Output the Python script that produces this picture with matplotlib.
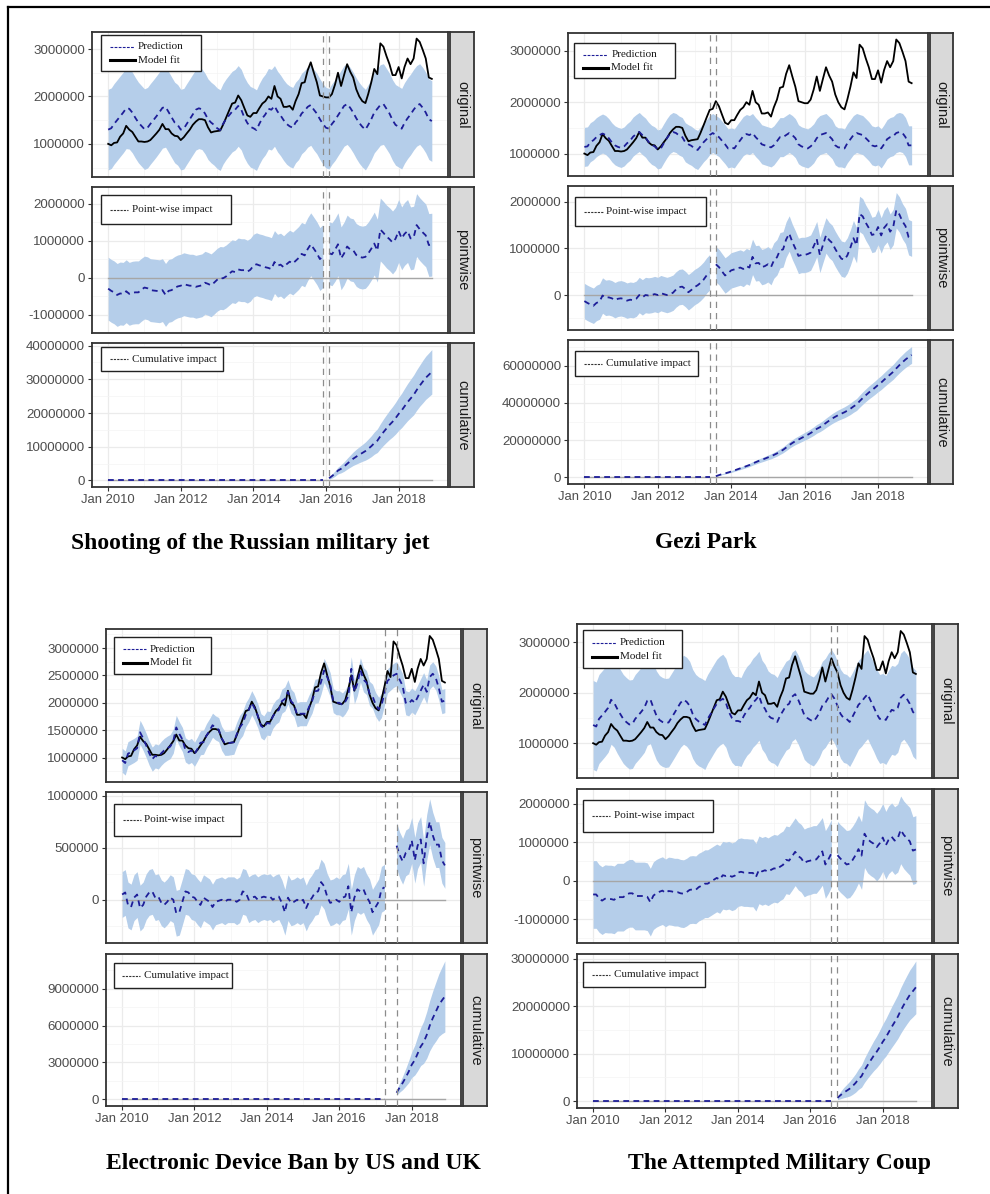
import numpy as np
import pandas as pd
import matplotlib
matplotlib.use("Agg")
import matplotlib.pyplot as plt
import matplotlib.dates as mdates
from matplotlib.patches import Rectangle
from matplotlib.lines import Line2D
from matplotlib.ticker import FixedLocator, FuncFormatter

# ---------------- data (values in millions) ----------------
start_month = "2010-01-01"
n_months = 108

actual_m = [
    1.00, 0.97, 1.02, 1.03, 1.15, 1.22, 1.38, 1.30, 1.25, 1.15, 1.05, 1.05,
    1.04, 1.05, 1.08, 1.15, 1.22, 1.30, 1.42, 1.31, 1.31, 1.22, 1.17, 1.16,
    1.08, 1.14, 1.22, 1.30, 1.40, 1.47, 1.52, 1.52, 1.50, 1.35, 1.24, 1.26,
    1.27, 1.28, 1.40, 1.55, 1.70, 1.85, 1.87, 2.02, 1.92, 1.76, 1.60, 1.57,
    1.65, 1.65, 1.75, 1.85, 1.90, 2.00, 1.95, 2.22, 2.00, 1.95, 1.78, 1.78,
    1.80, 1.72, 1.90, 2.05, 2.28, 2.30, 2.55, 2.72, 2.50, 2.30, 2.02, 2.00,
    1.98, 1.98, 2.05, 2.25, 2.50, 2.22, 2.45, 2.68, 2.52, 2.40, 2.15, 2.00,
    1.90, 1.86, 2.05, 2.30, 2.58, 2.47, 3.12, 3.05, 2.85, 2.68, 2.45, 2.45,
    2.62, 2.38, 2.62, 2.80, 2.68, 2.80, 3.22, 3.15, 2.98, 2.80, 2.40, 2.37]

pred_jet_m = [
    1.30, 1.33, 1.42, 1.50, 1.58, 1.66, 1.75, 1.74, 1.66, 1.55, 1.45, 1.38,
    1.31, 1.34, 1.42, 1.50, 1.58, 1.67, 1.76, 1.78, 1.67, 1.56, 1.45, 1.40,
    1.30, 1.32, 1.42, 1.52, 1.62, 1.72, 1.75, 1.73, 1.64, 1.52, 1.45, 1.40,
    1.33, 1.29, 1.42, 1.52, 1.60, 1.68, 1.72, 1.80, 1.72, 1.56, 1.44, 1.36,
    1.33, 1.29, 1.42, 1.54, 1.62, 1.74, 1.72, 1.80, 1.68, 1.60, 1.50, 1.42,
    1.37, 1.34, 1.45, 1.52, 1.64, 1.70, 1.78, 1.82, 1.72, 1.64, 1.52, 1.42,
    1.34, 1.32, 1.42, 1.50, 1.60, 1.70, 1.80, 1.84, 1.76, 1.66, 1.54, 1.44,
    1.36, 1.30, 1.40, 1.52, 1.66, 1.74, 1.82, 1.84, 1.74, 1.64, 1.50, 1.40,
    1.36, 1.32, 1.44, 1.54, 1.62, 1.72, 1.80, 1.84, 1.76, 1.66, 1.52, 1.48]

pred_gezi_m = [
    1.13, 1.14, 1.22, 1.26, 1.32, 1.36, 1.39, 1.36, 1.30, 1.22, 1.16, 1.13,
    1.11, 1.14, 1.20, 1.25, 1.33, 1.38, 1.42, 1.36, 1.31, 1.23, 1.17, 1.14,
    1.08, 1.10, 1.20, 1.30, 1.38, 1.42, 1.40, 1.35, 1.32, 1.22, 1.18, 1.15,
    1.10, 1.07, 1.14, 1.22, 1.28, 1.36, 1.40, 1.36, 1.32, 1.25, 1.18, 1.10,
    1.12, 1.10, 1.18, 1.26, 1.34, 1.38, 1.36, 1.40, 1.32, 1.26, 1.18, 1.16,
    1.14, 1.12, 1.16, 1.24, 1.32, 1.32, 1.36, 1.40, 1.36, 1.30, 1.18, 1.14,
    1.12, 1.10, 1.14, 1.20, 1.30, 1.36, 1.38, 1.40, 1.34, 1.28, 1.16, 1.12,
    1.12, 1.10, 1.20, 1.28, 1.36, 1.40, 1.38, 1.36, 1.30, 1.24, 1.16, 1.14,
    1.16, 1.10, 1.18, 1.28, 1.32, 1.34, 1.40, 1.42, 1.40, 1.32, 1.16, 1.16]

pred_coup_m = [
    1.36, 1.33, 1.48, 1.55, 1.62, 1.70, 1.86, 1.80, 1.68, 1.58, 1.48, 1.42,
    1.37, 1.38, 1.48, 1.55, 1.62, 1.70, 1.84, 1.87, 1.70, 1.55, 1.46, 1.42,
    1.40, 1.41, 1.50, 1.60, 1.70, 1.80, 1.86, 1.82, 1.74, 1.58, 1.48, 1.43,
    1.40, 1.36, 1.48, 1.58, 1.68, 1.78, 1.84, 1.88, 1.80, 1.62, 1.50, 1.44,
    1.44, 1.42, 1.54, 1.64, 1.70, 1.80, 1.86, 1.94, 1.76, 1.68, 1.55, 1.50,
    1.48, 1.42, 1.54, 1.64, 1.74, 1.78, 1.92, 1.97, 1.86, 1.72, 1.56, 1.50,
    1.46, 1.43, 1.50, 1.60, 1.74, 1.80, 1.90, 1.97, 1.88, 1.74, 1.58, 1.50,
    1.48, 1.42, 1.52, 1.64, 1.76, 1.82, 1.90, 1.97, 1.84, 1.72, 1.58, 1.48,
    1.50, 1.46, 1.56, 1.66, 1.64, 1.70, 1.90, 1.96, 1.88, 1.78, 1.62, 1.56]

# electronic device ban: point-wise effect read directly
effect_ban_m = [
    0.05, 0.07, -0.05, -0.07, 0.02, 0.05, -0.08, -0.05, 0.03, 0.07, 0.08, 0.02,
    0.03, -0.03, -0.05, -0.02, 0.02, 0.00, -0.13, -0.12, -0.02, 0.08, 0.07, 0.03,
    0.02, -0.02, -0.05, 0.02, 0.00, -0.02, -0.07, -0.02, -0.01, 0.00, -0.02, 0.00,
    0.00, 0.00, -0.02, 0.00, 0.08, 0.07, 0.00, 0.02, 0.03, 0.00, 0.02, 0.03,
    0.02, 0.03, 0.00, 0.02, 0.03, -0.03, -0.12, 0.02, -0.03, -0.02, 0.00, -0.02,
    0.00, -0.08, -0.02, 0.02, 0.07, 0.08, 0.17, 0.13, 0.03, -0.03, -0.02, 0.00,
    -0.02, 0.02, 0.03, 0.13, -0.12, 0.02, 0.10, 0.08, 0.10, 0.03, -0.02, -0.12,
    -0.07, -0.02, 0.10, 0.12, 0.18, 0.02, 0.62, 0.52, 0.43, 0.37, 0.45, 0.47,
    0.57, 0.38, 0.52, 0.58, 0.35, 0.60, 0.75, 0.62, 0.53, 0.53, 0.38, 0.33]

# half-width of the prediction interval (millions)
band_hw_jet = 0.85
band_hw_gezi = 0.38
band_hw_ban = 0.22
band_hw_coup = 0.88

# half-width of the cumulative interval for each post-period month (millions)
cum_hw_jet = [0.35, 0.6, 0.8, 1.0, 1.2, 1.4, 1.6, 1.8, 2.0, 2.2, 2.35, 2.5, 2.7, 2.9,
              3.1, 3.3, 3.5, 3.7, 3.9, 4.1, 4.3, 4.5, 4.7, 4.9, 5.1, 5.3, 5.5, 5.7,
              5.9, 6.0, 6.1, 6.3, 6.4, 6.5, 6.6]
cum_hw_gezi = [0.10, 0.18, 0.25, 0.32, 0.40, 0.47, 0.54, 0.60, 0.67, 0.74,
               0.80, 0.87, 0.94, 1.00, 1.07, 1.14, 1.20, 1.27, 1.34, 1.40,
               1.47, 1.54, 1.60, 1.67, 1.74, 1.80, 1.87, 1.94, 2.00, 2.07,
               2.14, 2.20, 2.27, 2.34, 2.40, 2.47, 2.54, 2.60, 2.67, 2.74,
               2.80, 2.87, 2.94, 3.00, 3.07, 3.14, 3.20, 3.27, 3.34, 3.40,
               3.47, 3.54, 3.60, 3.67, 3.74, 3.80, 3.87, 3.94, 4.00, 4.07,
               4.14, 4.20, 4.30, 4.40, 4.50]
cum_hw_ban = [0.20, 0.38, 0.55, 0.72, 0.90, 1.05, 1.22, 1.40, 1.55, 1.72, 1.90,
              2.05, 2.22, 2.40, 2.55, 2.72, 2.90]
cum_hw_coup = [0.40, 0.75, 1.05, 1.30, 1.55, 1.75, 1.95, 2.15, 2.35, 2.55, 2.75,
               2.95, 3.15, 3.35, 3.55, 3.75, 3.95, 4.10, 4.30, 4.45, 4.60, 4.80,
               4.95, 5.10, 5.25, 5.40, 5.55]

# last pre-period month and first post-period month (index from Jan 2010)
pre_end_jet, post_start_jet = 71, 73
pre_end_gezi, post_start_gezi = 41, 43
pre_end_ban, post_start_ban = 87, 91
pre_end_coup, post_start_coup = 79, 81

titles = ["Shooting of the Russian military jet", "Gezi Park",
          "Electronic Device Ban by US and UK", "The Attempted Military Coup"]
strip_labels = ["original", "pointwise", "cumulative"]
legend_orig = ["Prediction", "Model fit"]
legend_pw = "Point-wise impact"
legend_cum = "Cumulative impact"

yticks_jet = [[1e6, 2e6, 3e6], [-1e6, 0, 1e6, 2e6], [0, 1e7, 2e7, 3e7, 4e7]]
yticks_gezi = [[1e6, 2e6, 3e6], [0, 1e6, 2e6], [0, 2e7, 4e7, 6e7]]
yticks_ban = [[1e6, 1.5e6, 2e6, 2.5e6, 3e6], [0, 5e5, 1e6], [0, 3e6, 6e6, 9e6]]
yticks_coup = [[1e6, 2e6, 3e6], [-1e6, 0, 1e6, 2e6], [0, 1e7, 2e7, 3e7]]

xtick_years = [2010, 2012, 2014, 2016, 2018]
xminor_years = [2011, 2013, 2015, 2017]

# ---------------- style ----------------
BAND = "#B5CEEA"
PRED = "#1D1D98"
GRID = "#EBEBEB"
GRID_MINOR = "#F4F4F4"
BORDER = "#333333"
TICKLAB = "#4D4D4D"
SANS = "Liberation Sans"
SERIF = "Liberation Serif"

W, H = 990, 1194
fig = plt.figure(figsize=(W / 100, H / 100), dpi=100)
fig.patch.set_facecolor("white")


def frac(l, t, r, b):
    return [l / W, 1 - b / H, (r - l) / W, (b - t) / H]


dates = pd.date_range(start_month, periods=n_months, freq="MS")
x = mdates.date2num(dates.to_pydatetime())
xspan = x[-1] - x[0]
xlo, xhi = x[0] - 0.05 * xspan, x[-1] + 0.05 * xspan
xmaj = [mdates.date2num(pd.Timestamp(f"{y}-01-01")) for y in xtick_years]
xmin = [mdates.date2num(pd.Timestamp(f"{y}-01-01")) for y in xminor_years]

actual = np.array(actual_m) * 1e6

panels = [
    dict(pred=np.array(pred_jet_m) * 1e6, hw=band_hw_jet * 1e6,
         cum_hw=np.array(cum_hw_jet) * 1e6, pre=pre_end_jet, post=post_start_jet,
         yt=yticks_jet, title=titles[0], title_xy=(250, 543),
         left=92, right=448, sl=450, sr=474,
         rows=[(32, 177), (187, 333), (343, 487)],
         leg=[(101, 35, 201, 71), (101, 195, 231, 224), (101, 347, 223, 371)]),
    dict(pred=np.array(pred_gezi_m) * 1e6, hw=band_hw_gezi * 1e6,
         cum_hw=np.array(cum_hw_gezi) * 1e6, pre=pre_end_gezi, post=post_start_gezi,
         yt=yticks_gezi, title=titles[1], title_xy=(706, 543),
         left=568, right=928, sl=930, sr=953,
         rows=[(33, 176), (186, 330), (340, 484)],
         leg=[(574, 43, 675, 78), (575, 197, 706, 226), (575, 351, 698, 376)]),
    dict(pred=actual - np.array(effect_ban_m) * 1e6, hw=band_hw_ban * 1e6,
         cum_hw=np.array(cum_hw_ban) * 1e6, pre=pre_end_ban, post=post_start_ban,
         yt=yticks_ban, title=titles[2], title_xy=(293, 1163),
         left=106, right=461, sl=463, sr=487,
         rows=[(629, 782), (792, 943), (954, 1106)],
         leg=[(114, 637, 211, 674), (114, 804, 241, 836), (114, 963, 232, 988)]),
    dict(pred=np.array(pred_coup_m) * 1e6, hw=band_hw_coup * 1e6,
         cum_hw=np.array(cum_hw_coup) * 1e6, pre=pre_end_coup, post=post_start_coup,
         yt=yticks_coup, title=titles[3], title_xy=(780, 1163),
         left=577, right=932, sl=934, sr=958,
         rows=[(624, 778), (789, 943), (954, 1108)],
         leg=[(583, 630, 682, 668), (583, 800, 713, 832), (583, 962, 705, 987)]),
]

fmt = FuncFormatter(lambda v, p: f"{int(round(v))}")


def style_axes(ax, yticks, lo, hi, show_x):
    pad = 0.05 * (hi - lo)
    ax.set_xlim(xlo, xhi)
    ax.set_ylim(lo - pad, hi + pad)
    ax.yaxis.set_major_locator(FixedLocator(yticks))
    step = yticks[1] - yticks[0]
    minors = [yticks[0] - step / 2] + [t + step / 2 for t in yticks]
    ax.yaxis.set_minor_locator(FixedLocator(minors))
    ax.yaxis.set_major_formatter(fmt)
    ax.xaxis.set_major_locator(FixedLocator(xmaj))
    ax.xaxis.set_minor_locator(FixedLocator(xmin))
    ax.xaxis.set_major_formatter(mdates.DateFormatter("%b %Y"))
    ax.grid(which="major", color=GRID, lw=0.9)
    ax.grid(which="minor", color=GRID_MINOR, lw=0.5)
    ax.set_axisbelow(True)
    ax.tick_params(which="minor", length=0)
    ax.tick_params(axis="y", which="major", length=3, width=0.8, color=BORDER,
                   labelsize=9.6, labelcolor=TICKLAB, pad=2)
    if show_x:
        ax.tick_params(axis="x", which="major", length=3, width=0.8, color=BORDER,
                       labelsize=9.4, labelcolor=TICKLAB, pad=2)
    else:
        ax.tick_params(axis="x", which="major", length=0, labelbottom=False)
    for lab in ax.get_yticklabels() + ax.get_xticklabels():
        lab.set_fontfamily(SANS)
    for s in ax.spines.values():
        s.set_color(BORDER)
        s.set_linewidth(1.3)


def strip(l, t, r, b, label):
    sax = fig.add_axes(frac(l, t, r, b))
    sax.set_facecolor("#D9D9D9")
    sax.set_xticks([])
    sax.set_yticks([])
    for s in sax.spines.values():
        s.set_color(BORDER)
        s.set_linewidth(1.3)
    sax.text(0.5, 0.5, label, rotation=270, ha="center", va="center",
             fontsize=10.5, color="#1A1A1A", family=SANS, transform=sax.transAxes)


def legend_box(box, entries):
    l, t, r, b = box
    lax = fig.add_axes(frac(l, t, r, b))
    lax.set_xlim(0, 1)
    lax.set_ylim(0, 1)
    lax.axis("off")
    lax.add_patch(Rectangle((0, 0), 1, 1, facecolor="white", edgecolor="#222222",
                            lw=1.0, transform=lax.transAxes, clip_on=False))
    for (ypos, x0, x1, xt, color, lw, dashes, text) in entries:
        ln = Line2D([x0, x1], [ypos, ypos], color=color, lw=lw)
        if dashes:
            ln.set_dashes(dashes)
        lax.add_line(ln)
        lax.text(xt, ypos, text, ha="left", va="center", fontsize=8.0,
                 family=SERIF, color="#1A1A1A")


dash_pred = (3.2, 2.4)
vline_style = dict(color="#8C8C8C", lw=0.9, ls=(0, (5, 4)), zorder=4)

for p in panels:
    pred, hw, pre, post = p["pred"], p["hw"], p["pre"], p["post"]
    effect = actual - pred
    lo_band, hi_band = pred - hw, pred + hw
    xv = [x[pre], x[post]]

    # ---- original ----
    t, b = p["rows"][0]
    ax = fig.add_axes(frac(p["left"], t, p["right"], b))
    ax.fill_between(x, lo_band, hi_band, color=BAND, lw=0, zorder=1)
    ax.plot(x, actual, color="black", lw=1.3, zorder=3)
    ln, = ax.plot(x, pred, color=PRED, lw=1.3, zorder=3)
    ln.set_dashes(dash_pred)
    for xx in xv:
        ax.axvline(xx, **vline_style)
    lo = min(lo_band.min(), actual.min())
    hi = max(hi_band.max(), actual.max())
    style_axes(ax, p["yt"][0], lo, hi, False)
    strip(p["sl"], t, p["sr"], b, strip_labels[0])

    # ---- pointwise ----
    t, b = p["rows"][1]
    ax = fig.add_axes(frac(p["left"], t, p["right"], b))
    for sl_ in (slice(0, pre + 1), slice(post, n_months)):
        ax.fill_between(x[sl_], effect[sl_] - hw, effect[sl_] + hw, color=BAND, lw=0, zorder=1)
    ax.plot([x[0], x[-1]], [0, 0], color="#A6A6A6", lw=1.0, zorder=2)
    for sl_ in (slice(0, pre + 1), slice(post, n_months)):
        ln, = ax.plot(x[sl_], effect[sl_], color=PRED, lw=1.3, zorder=3)
        ln.set_dashes(dash_pred)
    for xx in xv:
        ax.axvline(xx, **vline_style)
    shown = np.concatenate([effect[:pre + 1], effect[post:]])
    lo = min(shown.min() - hw, 0)
    hi = max(shown.max() + hw, 0)
    style_axes(ax, p["yt"][1], lo, hi, False)
    strip(p["sl"], t, p["sr"], b, strip_labels[1])

    # ---- cumulative ----
    t, b = p["rows"][2]
    ax = fig.add_axes(frac(p["left"], t, p["right"], b))
    cum = np.cumsum(effect[post:])
    chw = p["cum_hw"]
    ax.fill_between(x[post:], cum - chw, cum + chw, color=BAND, lw=0, zorder=1)
    ax.plot([x[0], x[-1]], [0, 0], color="#A6A6A6", lw=1.0, zorder=2)
    ln, = ax.plot(x[:pre + 1], np.zeros(pre + 1), color=PRED, lw=1.3, zorder=3)
    ln.set_dashes(dash_pred)
    ln, = ax.plot(x[post:], cum, color=PRED, lw=1.3, zorder=3)
    ln.set_dashes(dash_pred)
    for xx in xv:
        ax.axvline(xx, **vline_style)
    lo = min((cum - chw).min(), 0)
    hi = max((cum + chw).max(), 0)
    style_axes(ax, p["yt"][2], lo, hi, True)
    strip(p["sl"], t, p["sr"], b, strip_labels[2])

    # ---- legends ----
    legend_box(p["leg"][0], [
        (0.67, 0.09, 0.33, 0.37, PRED, 0.8, (2.5, 1.2), legend_orig[0]),
        (0.30, 0.09, 0.34, 0.37, "black", 2.2, None, legend_orig[1]),
    ])
    legend_box(p["leg"][1], [(0.5, 0.07, 0.21, 0.24, "#333333", 0.8, (2.0, 1.0), legend_pw)])
    legend_box(p["leg"][2], [(0.5, 0.07, 0.22, 0.25, "#333333", 0.8, (2.0, 1.0), legend_cum)])

    # ---- title ----
    tx, ty = p["title_xy"]
    fig.text(tx / W, 1 - ty / H, p["title"], ha="center", va="center",
             fontsize=17, fontweight="bold", family=SERIF, color="black")

# outer frame (left and top edges, as in the source image)
for xs, ys in [((8, 8), (7, H + 5)), ((8, W + 5), (7, 7))]:
    fig.add_artist(Line2D([v / W for v in xs], [1 - v / H for v in ys],
                          transform=fig.transFigure, color="black", lw=1.6))

fig.savefig("out.png", dpi=100, facecolor="white")
